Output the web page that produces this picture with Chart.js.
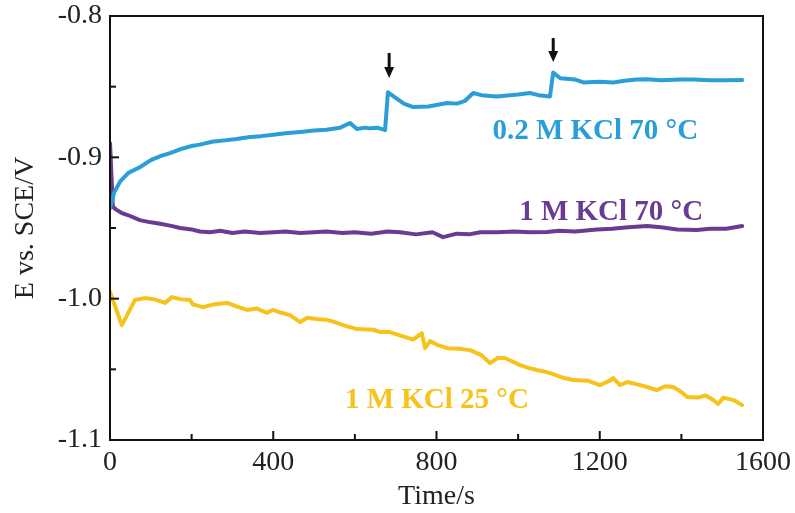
<!DOCTYPE html>
<html><head><meta charset="utf-8">
<script src="https://cdn.jsdelivr.net/npm/chart.js@4"></script>
<style>html,body{margin:0;padding:0;background:#fff}canvas{display:block}</style>
</head><body>
<canvas id="c" width="795" height="513"></canvas>
<script>
const xTicks = [0, 400, 800, 1200, 1600];
const yTicks = [-1.1, -1.0, -0.9, -0.8];
const seriesNames = ["0.2 M KCl 70 °C", "1 M KCl 70 °C", "1 M KCl 25 °C"];

const blueT = [0,10,25,45,73,100,125,147,175,200,220,250,280,310,343,370,400,430,466,500,530,564,588,605,625,637,655,674,681,700,720,743,780,826,850,870,890,910,948,980,1000,1029,1050,1078,1086,1103,1140,1160,1184,1200,1233,1260,1290,1316,1350,1397,1430,1470,1510,1549];
const blueV = [-0.936,-0.925,-0.917,-0.911,-0.907,-0.902,-0.899,-0.897,-0.894,-0.892,-0.891,-0.889,-0.888,-0.887,-0.8856,-0.885,-0.884,-0.883,-0.882,-0.881,-0.8805,-0.879,-0.8757,-0.880,-0.879,-0.8795,-0.879,-0.8807,-0.854,-0.858,-0.862,-0.8644,-0.864,-0.8616,-0.862,-0.860,-0.8545,-0.856,-0.857,-0.856,-0.8555,-0.8545,-0.856,-0.857,-0.840,-0.844,-0.845,-0.847,-0.8467,-0.8465,-0.847,-0.8458,-0.845,-0.8447,-0.8455,-0.845,-0.845,-0.8455,-0.8455,-0.8453];

const purpleT = [0,7,15,29,45,73,100,123,150,172,200,220,245,270,300,330,368,400,430,466,500,530,570,600,640,680,711,750,790,816,850,880,907,950,990,1030,1071,1100,1140,1193,1230,1270,1316,1350,1390,1438,1470,1510,1549];
const purpleV = [-0.890,-0.935,-0.937,-0.9394,-0.941,-0.9444,-0.946,-0.947,-0.9485,-0.950,-0.951,-0.9525,-0.953,-0.952,-0.9535,-0.9525,-0.9535,-0.953,-0.9525,-0.9535,-0.953,-0.9525,-0.9535,-0.953,-0.954,-0.9525,-0.953,-0.9545,-0.953,-0.9565,-0.954,-0.9545,-0.953,-0.953,-0.9525,-0.953,-0.9528,-0.952,-0.9525,-0.951,-0.9505,-0.9495,-0.9486,-0.9495,-0.951,-0.9514,-0.9505,-0.9505,-0.9486];

const yellowT = [0,29,61,86,110,135,152,175,196,203,228,255,287,310,336,360,385,399,420,441,466,483,510,532,555,571,605,645,662,686,710,743,764,772,784,800,826,855,882,910,931,950,968,990,1005,1025,1046,1070,1086,1110,1135,1170,1201,1225,1233,1250,1267,1290,1316,1340,1360,1380,1400,1414,1440,1460,1478,1490,1503,1530,1549];
const yellowV = [-0.9953,-1.0187,-1.001,-0.9996,-1.0005,-1.003,-0.9989,-1.0005,-1.001,-1.004,-1.006,-1.004,-1.003,-1.0055,-1.008,-1.007,-1.010,-1.008,-1.010,-1.0116,-1.0166,-1.0135,-1.0145,-1.015,-1.017,-1.0187,-1.0215,-1.022,-1.0236,-1.0236,-1.026,-1.029,-1.0244,-1.035,-1.030,-1.0325,-1.035,-1.0355,-1.0364,-1.040,-1.0456,-1.042,-1.042,-1.045,-1.047,-1.049,-1.0505,-1.052,-1.0534,-1.056,-1.0576,-1.058,-1.0611,-1.058,-1.0562,-1.0611,-1.059,-1.0605,-1.0625,-1.0647,-1.062,-1.0625,-1.066,-1.0696,-1.070,-1.0685,-1.0717,-1.0745,-1.070,-1.072,-1.0753];

const arrowT = [684, 1086];
const arrowTopV = [-0.8262, -0.8156];
const arrowTipV = [-0.8439, -0.8326];

const labelT = [1189, 1228, 801];
const labelV = [-0.882, -0.9387, -1.0718];

const COLORS = ['#2a9ed8', '#6a3b95', '#f6c21b'];
const SERIF = '"Liberation Serif", "Times New Roman", serif';

function pts(t, v){ return t.map((x,i)=>({x:x, y:v[i]})); }

const decor = {
  id: 'decor',
  afterDraw(chart){
    const ctx = chart.ctx, xs = chart.scales.x, ys = chart.scales.y, a = chart.chartArea;
    ctx.save();
    ctx.strokeStyle = '#111'; ctx.lineWidth = 2;
    ctx.strokeRect(a.left, a.top, a.right - a.left, a.bottom - a.top);
    for (let v = 0; v <= 1600; v += 200) {
      const px = xs.getPixelForValue(v);
      const len = (v % 400 === 0) ? 9 : 6;
      ctx.beginPath(); ctx.moveTo(px, a.bottom); ctx.lineTo(px, a.bottom - len); ctx.stroke();
    }
    for (let k = 0; k <= 6; k++) {
      const v = -1.1 + k * 0.05;
      const py = ys.getPixelForValue(v);
      const len = (k % 2 === 0) ? 9 : 6;
      ctx.beginPath(); ctx.moveTo(a.left, py); ctx.lineTo(a.left + len, py); ctx.stroke();
    }
    ctx.fillStyle = '#111'; ctx.strokeStyle = '#111';
    arrowT.forEach((t, i) => {
      const px = xs.getPixelForValue(t);
      const y0 = ys.getPixelForValue(arrowTopV[i]);
      const y1 = ys.getPixelForValue(arrowTipV[i]);
      ctx.lineWidth = 3;
      ctx.beginPath(); ctx.moveTo(px, y0); ctx.lineTo(px, y1 - 8); ctx.stroke();
      ctx.beginPath(); ctx.moveTo(px - 5, y1 - 11); ctx.lineTo(px + 5, y1 - 11); ctx.lineTo(px, y1); ctx.closePath(); ctx.fill();
    });
    ctx.font = 'bold 29px ' + SERIF;
    ctx.textAlign = 'center'; ctx.textBaseline = 'middle';
    seriesNames.forEach((n, i) => {
      ctx.fillStyle = COLORS[i];
      ctx.fillText(n, xs.getPixelForValue(labelT[i]), ys.getPixelForValue(labelV[i]));
    });
    ctx.restore();
  }
};

new Chart(document.getElementById('c'), {
  type: 'line',
  data: {
    datasets: [
      {label: seriesNames[0], data: pts(blueT, blueV), borderColor: COLORS[0]},
      {label: seriesNames[1], data: pts(purpleT, purpleV), borderColor: COLORS[1]},
      {label: seriesNames[2], data: pts(yellowT, yellowV), borderColor: COLORS[2]}
    ].map(d => Object.assign(d, {borderWidth: 4, pointRadius: 0, tension: 0, fill: false, borderJoinStyle: 'round', borderCapStyle: 'round'}))
  },
  options: {
    responsive: false, animation: false,
    layout: {padding: {left: 0, top: 16, right: 32, bottom: 0}},
    plugins: {legend: {display: false}, tooltip: {enabled: false}},
    scales: {
      x: {
        type: 'linear', min: 0, max: 1600,
        afterBuildTicks: s => { s.ticks = xTicks.map(v => ({value: v})); },
        afterFit: s => { s.height = 73; s.paddingLeft = 0; s.paddingRight = 0; },
        grid: {display: false, drawTicks: false},
        border: {display: false},
        ticks: {font: {family: SERIF, size: 28}, color: '#222', padding: 6, maxRotation: 0, callback: v => String(v)},
        title: {display: true, text: 'Time/s', font: {family: SERIF, size: 28}, color: '#222', padding: {top: 0, bottom: 0}}
      },
      y: {
        type: 'linear', min: -1.1, max: -0.8,
        afterBuildTicks: s => { s.ticks = yTicks.map(v => ({value: v})); },
        afterFit: s => { s.width = 110; s.paddingTop = 0; s.paddingBottom = 0; },
        grid: {display: false, drawTicks: false},
        border: {display: false},
        ticks: {font: {family: SERIF, size: 28}, color: '#222', padding: 8, callback: v => v.toFixed(1)},
        title: {display: true, text: 'E vs. SCE/V', font: {family: SERIF, size: 28}, color: '#222', padding: {top: 9, bottom: 0}}
      }
    }
  },
  plugins: [decor]
});
</script>
</body></html>
